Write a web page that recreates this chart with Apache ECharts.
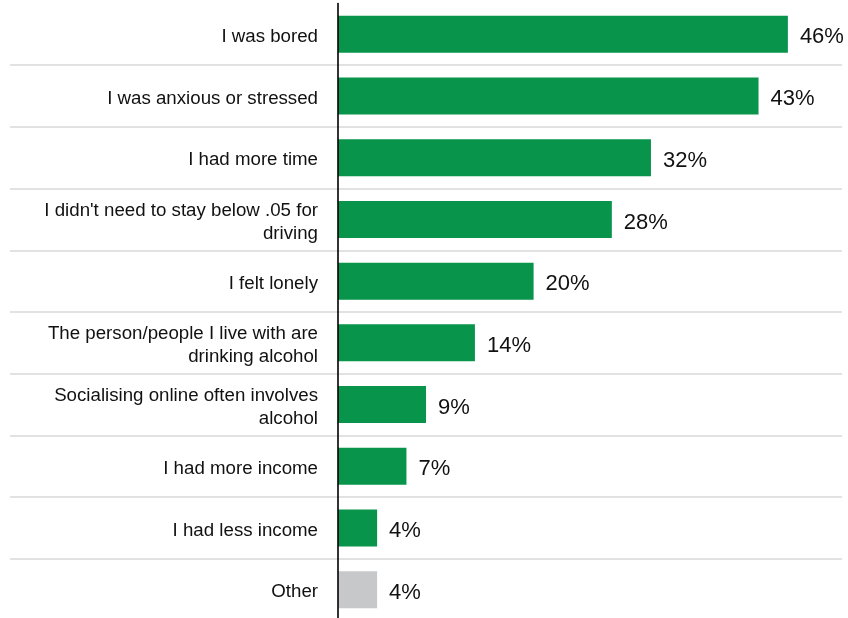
<!DOCTYPE html>
<html>
<head>
<meta charset="utf-8">
<script src="https://cdn.jsdelivr.net/npm/echarts@6/dist/echarts.min.js"></script>
<style>
  html, body { margin: 0; padding: 0; background: #ffffff; }
  #chart { width: 848px; height: 618px; }
</style>
</head>
<body>
<div id="chart"></div>
<script>
// Reasons for drinking more, share of respondents (%)
const categories = [
  'I was bored',
  'I was anxious or stressed',
  'I had more time',
  "I didn't need to stay below .05 for\ndriving",
  'I felt lonely',
  'The person/people I live with are\ndrinking alcohol',
  'Socialising online often involves\nalcohol',
  'I had more income',
  'I had less income',
  'Other'
];
const values = [46, 43, 32, 28, 20, 14, 9, 7, 4, 4];
const otherCategory = 'Other';

const GREEN = '#08944a';
const GREY = '#c7c8ca';
const FONT = '"Liberation Sans", Arial, sans-serif';

const chart = echarts.init(document.getElementById('chart'));

const barData = categories.map((c, i) => ({
  value: values[i],
  itemStyle: { color: c === otherCategory ? GREY : GREEN }
}));

chart.setOption({
  animation: false,
  backgroundColor: '#ffffff',
  grid: [
    // bar area
    { left: 338, top: 3.5, width: 489, height: 617, containLabel: false, outerBoundsMode: 'none' },
    // full-width row separators
    { left: 10, top: 3.5, width: 832, height: 617, containLabel: false, outerBoundsMode: 'none' }
  ],
  xAxis: [
    { gridIndex: 0, type: 'value', min: 0, max: 50, show: false },
    { gridIndex: 1, type: 'value', min: 0, max: 1, show: false }
  ],
  yAxis: [
    {
      gridIndex: 0,
      type: 'category',
      inverse: true,
      data: categories,
      axisLine: { show: true, lineStyle: { color: '#000000', width: 1.6 } },
      axisTick: { show: false },
      splitLine: { show: false },
      axisLabel: {
        margin: 20,
        color: '#111111',
        fontFamily: FONT,
        fontSize: 18.7,
        lineHeight: 23,
        align: 'right',
        verticalAlign: 'middle',
        // nudge the category names a little below the bar centre line
        formatter: function (name) {
          return name.split('\n').map(function (line) { return '{t|' + line + '}'; }).join('\n');
        },
        rich: {
          t: {
            fontFamily: FONT,
            fontSize: 18.7,
            lineHeight: 23,
            color: '#111111',
            padding: [5, 0, 0, 0]
          }
        }
      },
      z: 5
    },
    {
      gridIndex: 1,
      type: 'category',
      inverse: true,
      data: categories,
      axisLine: { show: false },
      axisTick: { show: false },
      axisLabel: { show: false },
      splitLine: {
        show: true,
        interval: function (index) { return index > 0; },
        lineStyle: { color: '#d9d9d9', width: 1.5 }
      },
      z: 0
    }
  ],
  series: [
    {
      type: 'bar',
      xAxisIndex: 0,
      yAxisIndex: 0,
      data: barData,
      barWidth: 37,
      label: {
        show: true,
        position: 'right',
        distance: 12,
        offset: [0, 3],
        formatter: '{c}%',
        color: '#111111',
        fontFamily: FONT,
        fontSize: 22
      },
      z: 3
    }
  ]
});
</script>
</body>
</html>
